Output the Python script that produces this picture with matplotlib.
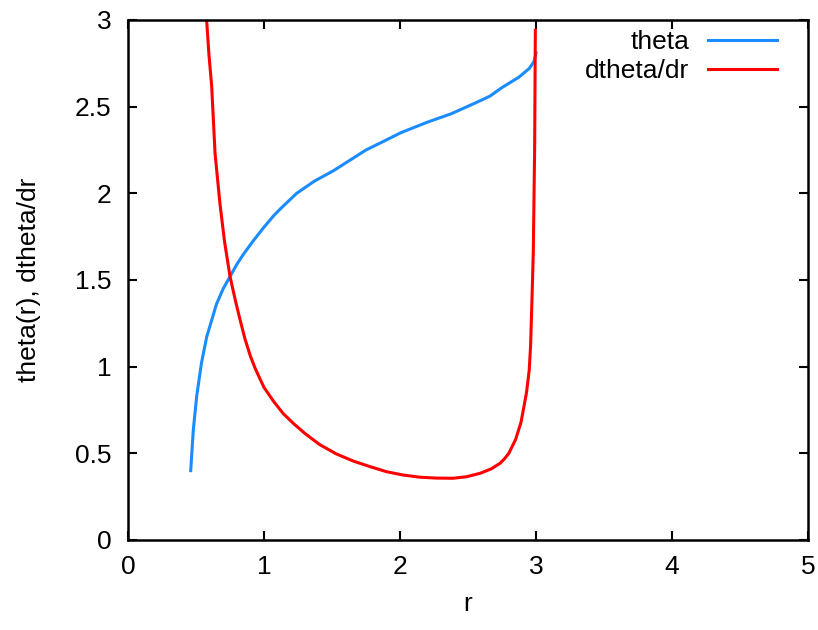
import matplotlib
matplotlib.use("Agg")
import matplotlib.pyplot as plt

plt.rcParams['font.family'] = ['Liberation Sans', 'DejaVu Sans']

# values
r_theta = [0.461, 0.48, 0.505, 0.54, 0.578, 0.65, 0.70, 0.75, 0.80, 0.85, 0.92, 0.995,
           1.07, 1.12, 1.24, 1.37, 1.51, 1.63, 1.75, 1.88, 2.007, 2.2, 2.38, 2.55,
           2.66, 2.75, 2.874, 2.95, 2.985, 3.0]
theta = [0.40, 0.635, 0.83, 1.02, 1.17, 1.36, 1.45, 1.52, 1.59, 1.65, 1.725, 1.80,
         1.87, 1.91, 2.0, 2.07, 2.13, 2.19, 2.25, 2.30, 2.35, 2.41, 2.46, 2.52,
         2.56, 2.61, 2.67, 2.72, 2.76, 2.81]

r_dtheta = [0.578, 0.595, 0.615, 0.64, 0.676, 0.71, 0.75, 0.79, 0.824, 0.86, 0.9,
            0.935, 0.97, 1.0, 1.07, 1.14, 1.215, 1.3, 1.41, 1.53, 1.657, 1.78, 1.90,
            2.02, 2.147, 2.27, 2.39, 2.49, 2.59, 2.67, 2.735, 2.77, 2.80, 2.85, 2.89,
            2.93, 2.95, 2.96, 2.97, 2.98, 2.99, 2.995]
dtheta = [3.0, 2.80, 2.62, 2.23, 1.94, 1.72, 1.52, 1.38, 1.27, 1.16, 1.06,
          0.99, 0.93, 0.88, 0.80, 0.73, 0.673, 0.615, 0.55, 0.497, 0.455, 0.423, 0.394,
          0.375, 0.362, 0.357, 0.356, 0.365, 0.385, 0.41, 0.442, 0.47, 0.50, 0.58, 0.68,
          0.85, 0.98, 1.12, 1.38, 1.66, 2.27, 2.94]

fig = plt.figure(figsize=(8.18, 6.30), dpi=100)
ax = fig.add_axes([0.1565, 0.1429, 0.8313, 0.8254])

ax.plot(r_theta, theta, color='#1a8cff', lw=2.2, label='theta')
ax.plot(r_dtheta, dtheta, color='#ff0000', lw=2.2, label='dtheta/dr')

ax.set_xlim(0, 5)
ax.set_ylim(0, 3)
ax.set_xticks([0, 1, 2, 3, 4, 5])
ax.set_yticks([0, 0.5, 1, 1.5, 2, 2.5, 3])
ax.set_yticklabels(['0', '0.5', '1', '1.5', '2', '2.5', '3'])
ax.tick_params(direction='in', length=6.5, width=1.5, top=True, right=True,
               labelsize=19)
ax.tick_params(axis='x', pad=11)
ax.tick_params(axis='y', pad=12)
for s in ax.spines.values():
    s.set_linewidth(1.8)

ax.set_xlabel('r', fontsize=19, labelpad=9)
ax.set_ylabel('theta(r), dtheta/dr', fontsize=19, labelpad=24)

ax.legend(loc='upper right', bbox_to_anchor=(0.954, 0.98), frameon=False,
          markerfirst=False, fontsize=19, handlelength=2.6, handletextpad=0.72,
          labelspacing=0.19, borderaxespad=0, borderpad=0)

fig.savefig('out.png', dpi=100)
